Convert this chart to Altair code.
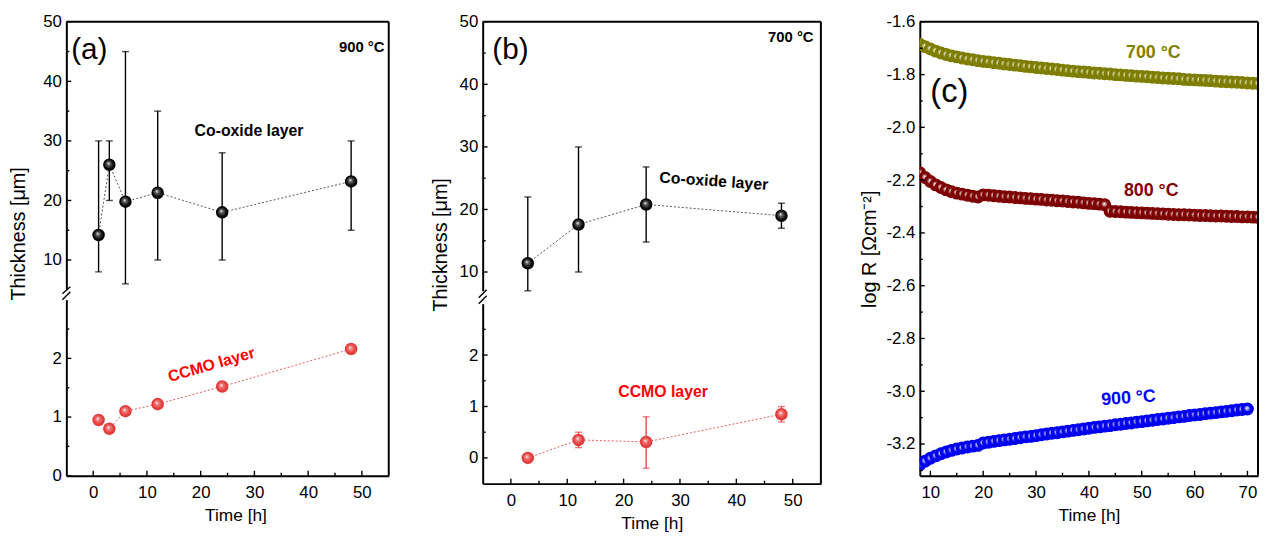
import altair as alt
import pandas as pd

FONT = "Liberation Sans"

# ---------------- panel (a) : 900 C ----------------
A_TIME = [1, 3, 6, 12, 24, 48]
A_COOX = [14.2, 26.0, 19.8, 21.3, 18.0, 23.2]
A_COOX_LO = [8, 20, 6, 10, 10, 15]
A_COOX_HI = [30, 30, 45, 35, 28, 30]
A_CCMO = [0.95, 0.80, 1.10, 1.22, 1.52, 2.16]

# ---------------- panel (b) : 700 C ----------------
B_TIME = [3, 12, 24, 48]
B_COOX = [11.4, 17.6, 20.8, 19.0]
B_COOX_LO = [7, 10, 14.8, 17]
B_COOX_HI = [22, 30, 26.8, 21]
B_CCMO = [0.0, 0.35, 0.31, 0.85]
B_CCMO_ERR_TIME = [12, 24, 48]
B_CCMO_LO = [0.2, -0.2, 0.7]
B_CCMO_HI = [0.5, 0.8, 1.0]

# ---------------- panel (c) : log R vs time ----------------
C_TIME_LONG = list(range(8, 73))
C_TIME_900 = list(range(8, 71))
C_700 = [-1.685, -1.694, -1.703, -1.711, -1.718, -1.724, -1.729, -1.733, -1.737, -1.741,
         -1.744, -1.747, -1.750, -1.752, -1.755, -1.757, -1.760, -1.762, -1.764, -1.766,
         -1.769, -1.771, -1.773, -1.775, -1.777, -1.779, -1.781, -1.783, -1.785, -1.787,
         -1.789, -1.790, -1.792, -1.794, -1.795, -1.797, -1.798, -1.800, -1.801, -1.803,
         -1.804, -1.806, -1.807, -1.808, -1.810, -1.811, -1.813, -1.814, -1.815, -1.816,
         -1.818, -1.819, -1.820, -1.821, -1.822, -1.823, -1.825, -1.826, -1.827, -1.828,
         -1.829, -1.830, -1.832, -1.833, -1.834]
C_800 = [-2.172, -2.190, -2.205, -2.218, -2.228, -2.237, -2.244, -2.249, -2.253, -2.257,
         -2.261, -2.264, -2.256, -2.257, -2.259, -2.261, -2.263, -2.264, -2.266, -2.267,
         -2.269, -2.270, -2.272, -2.273, -2.275, -2.276, -2.278, -2.279, -2.281, -2.283,
         -2.284, -2.286, -2.288, -2.289, -2.291, -2.293, -2.318, -2.319, -2.320, -2.321,
         -2.322, -2.323, -2.324, -2.325, -2.326, -2.327, -2.328, -2.329, -2.330, -2.331,
         -2.331, -2.332, -2.333, -2.334, -2.334, -2.335, -2.336, -2.336, -2.337, -2.338,
         -2.338, -2.339, -2.339, -2.340, -2.341]
C_900 = [-3.278, -3.265, -3.254, -3.245, -3.237, -3.230, -3.224, -3.219, -3.215, -3.211,
         -3.208, -3.205, -3.196, -3.193, -3.190, -3.187, -3.184, -3.182, -3.179, -3.176,
         -3.173, -3.171, -3.168, -3.165, -3.162, -3.159, -3.157, -3.154, -3.151, -3.148,
         -3.146, -3.143, -3.140, -3.137, -3.135, -3.132, -3.130, -3.127, -3.125, -3.122,
         -3.120, -3.117, -3.115, -3.112, -3.110, -3.107, -3.105, -3.102, -3.100, -3.097,
         -3.095, -3.092, -3.090, -3.088, -3.085, -3.083, -3.081, -3.078, -3.076, -3.074,
         -3.071, -3.069, -3.067]

# ---------------- tick values ----------------
XT_AB = [0, 10, 20, 30, 40, 50]
XT_AB_MINOR = [5, 15, 25, 35, 45]
YT_UP = [10, 20, 30, 40, 50]
YT_UP_MINOR = [15, 25, 35, 45]
YT_LO = [0, 1, 2]
YT_LO_MINOR = [0.5, 1.5, 2.5]
XT_C = [10, 20, 30, 40, 50, 60, 70]
XT_C_MINOR = [15, 25, 35, 45, 55, 65]
YT_C = [-1.6, -1.8, -2.0, -2.2, -2.4, -2.6, -2.8, -3.0, -3.2]
YT_C_MINOR = [-1.7, -1.9, -2.1, -2.3, -2.5, -2.7, -2.9, -3.1, -3.3]

DUMMY = pd.DataFrame({"d": [0]})
LAB = dict(labelFont=FONT, labelFontSize=17, labelColor="black", labelOverlap=False)
TIT = dict(titleFont=FONT, titleFontWeight="normal", titleColor="black")


def sphere(hi, mid, edge):
    return {"gradient": "radial", "x1": 0.42, "y1": 0.38, "r1": 0, "x2": 0.5, "y2": 0.5, "r2": 0.5,
            "stops": [{"offset": 0, "color": hi}, {"offset": 0.3, "color": mid},
                      {"offset": 0.75, "color": edge}, {"offset": 1, "color": edge}]}


BLACK_SPH = sphere("#f4f4f4", "#5a5a5a", "#050505")
RED_SPH = sphere("#ffffff", "#f27a7a", "#e23c3c")


def x_enc(values, dom, rng, title_x=None):
    ax = dict(values=values, grid=False, ticks=False, domain=True, domainColor="black", domainWidth=2,
              labelPadding=9, title="Time [h]", titleFontSize=17.5, titlePadding=6, orient="bottom",
              **LAB, **TIT)
    if title_x is not None:
        ax["titleX"] = title_x
    return alt.X("x:Q", scale=alt.Scale(domain=dom, range=rng, nice=False, zero=False), axis=alt.Axis(**ax))


def y_enc(values, dom, rng, title=None, title_x=None, title_y=None, fmt=None):
    ax = dict(values=values, grid=False, ticks=False, domain=True, domainColor="black", domainWidth=2,
              labelPadding=5, orient="left", titleFontSize=20, **LAB, **TIT)
    if fmt is not None:
        ax["labelExpr"] = "replace(format(datum.value, '" + fmt + "'), '\u2212', '-')"
    if title is None:
        ax["title"] = None
    else:
        ax["title"] = title
        if title_x is not None:
            ax["titleX"] = title_x
            ax["titleY"] = title_y
        else:
            ax["titlePadding"] = 6
    return alt.Y("y:Q", scale=alt.Scale(domain=dom, range=rng, nice=False, zero=False), axis=alt.Axis(**ax))


def text(xe, ye, x, y, label, size, color="black", bold=True, align="center", angle=0):
    df = pd.DataFrame({"x": [x], "y": [y], "label": [label]})
    mk = dict(font=FONT, fontSize=size, fontWeight="bold" if bold else "normal", color=color,
              align=align, baseline="middle")
    if angle:
        mk["angle"] = angle
    return alt.Chart(df).mark_text(**mk).encode(x=xe, y=ye, text="label:N")


def y_ticks(ye, major, minor):
    m1 = alt.Chart(pd.DataFrame({"y": major})).mark_rule(color="black", strokeWidth=1.4).encode(
        y=ye, x=alt.value(0), x2=alt.value(5))
    m2 = alt.Chart(pd.DataFrame({"y": minor})).mark_rule(color="black", strokeWidth=1.4).encode(
        y=ye, x=alt.value(0), x2=alt.value(3))
    return [m1, m2]


def x_ticks(xe, major, minor, h):
    m1 = alt.Chart(pd.DataFrame({"x": major})).mark_rule(color="black", strokeWidth=1.4).encode(
        x=xe, y=alt.value(h), y2=alt.value(h - 5))
    m2 = alt.Chart(pd.DataFrame({"x": minor})).mark_rule(color="black", strokeWidth=1.4).encode(
        x=xe, y=alt.value(h), y2=alt.value(h - 3))
    return [m1, m2]


def errorbars(xe, ye, xs, lo, hi, color):
    bars = alt.Chart(pd.DataFrame({"x": xs, "y": lo, "y2": hi})).mark_rule(
        color=color, strokeWidth=1.4).encode(x=xe, y=ye, y2=alt.Y2("y2:Q"))
    caps = alt.Chart(pd.DataFrame({"x": list(xs) + list(xs), "y": list(lo) + list(hi)})).mark_tick(
        orient="horizontal", size=7, thickness=1.4, color=color).encode(x=xe, y=ye)
    return [bars, caps]


def series(xe, ye, xs, ys, line_color, sphere_fill, size=160):
    line = alt.Chart(pd.DataFrame({"x": xs, "y": ys})).mark_line(
        color=line_color, strokeWidth=1, strokeDash=[2, 2]).encode(x=xe, y=ye)
    pts = alt.Chart(pd.DataFrame({"x": xs, "y": ys})).mark_point(
        shape="circle", filled=True, fill=sphere_fill, size=size, opacity=1, strokeWidth=0).encode(x=xe, y=ye)
    return line, pts


def frame_rules(w, h_top, h_bottom):
    top = alt.Chart(DUMMY).mark_rule(color="black", strokeWidth=2).encode(
        x=alt.value(0), x2=alt.value(w), y=alt.value(0))
    right = alt.Chart(DUMMY).mark_rule(color="black", strokeWidth=2).encode(
        x=alt.value(w), y=alt.value(h_top), y2=alt.value(h_bottom))
    return top, right


def break_marks(y1a, y1b, y2a, y2b):
    s1 = alt.Chart(DUMMY).mark_rule(color="black", strokeWidth=1.4).encode(
        x=alt.value(-4), x2=alt.value(4), y=alt.value(y1a), y2=alt.value(y1b))
    s2 = alt.Chart(DUMMY).mark_rule(color="black", strokeWidth=1.4).encode(
        x=alt.value(-4), x2=alt.value(4), y=alt.value(y2a), y2=alt.value(y2b))
    return s1, s2


def spacer(w, h):
    return alt.Chart(DUMMY).mark_point(opacity=0).encode(
        x=alt.value(0), y=alt.value(0)).properties(width=w, height=h)


# ================= panel (a) =================
WA, HA = 326, 459
xa = x_enc(XT_AB, [-5, 55], [0, WA], title_x=171)
ya_up = y_enc(YT_UP, [5, 50], [271, 0], title="Thickness [\u03bcm]", title_x=-38, title_y=214)
ya_lo = y_enc(YT_LO, [0, 3], [459, 281])

a_line_up, a_pts_up = series(xa, ya_up, A_TIME, A_COOX, "#555555", BLACK_SPH)
a_top, a_right = frame_rules(WA, 0, HA)
upper_a = alt.layer(
    *errorbars(xa, ya_up, A_TIME, A_COOX_LO, A_COOX_HI, "black"),
    a_line_up, a_pts_up,
    *y_ticks(ya_up, YT_UP, YT_UP_MINOR),
    text(xa, ya_up, -4.1, 45.3, "(a)", 30, bold=False, align="left"),
    text(xa, ya_up, 54.2, 45.8, "900 \u00b0C", 15, align="right"),
    text(xa, ya_up, 29, 31.6, "Co-oxide layer", 16),
    a_top, a_right,
)
a_line_lo, a_pts_lo = series(xa, ya_lo, A_TIME, A_CCMO, "#f05a5a", RED_SPH)
a_s1, a_s2 = break_marks(275, 268, 281, 273)
lower_a = alt.layer(
    a_line_lo, a_pts_lo,
    *y_ticks(ya_lo, YT_LO, YT_LO_MINOR),
    *x_ticks(xa, XT_AB, XT_AB_MINOR, HA),
    text(xa, ya_lo, 22, 1.89, "CCMO layer", 16, color="#ff0000", angle=344),
    a_s1, a_s2,
)
panel_a = alt.layer(upper_a, lower_a).resolve_scale(y="independent").properties(width=WA, height=HA)

# ================= panel (b) =================
WB, HB = 342, 467
xb = x_enc(XT_AB, [-5, 55], [0, WB])
yb_up = y_enc(YT_UP, [7, 50], [272, 0], title="Thickness [\u03bcm]", title_x=-33, title_y=225)
yb_lo = y_enc(YT_LO, [-0.5, 3], [467, 285])

b_line_up, b_pts_up = series(xb, yb_up, B_TIME, B_COOX, "#555555", BLACK_SPH)
b_top, b_right = frame_rules(WB, 0, HB)
upper_b = alt.layer(
    *errorbars(xb, yb_up, B_TIME, B_COOX_LO, B_COOX_HI, "black"),
    b_line_up, b_pts_up,
    *y_ticks(yb_up, YT_UP, YT_UP_MINOR),
    text(xb, yb_up, -3.3, 45.4, "(b)", 30, bold=False, align="left"),
    text(xb, yb_up, 53.7, 47.6, "700 \u00b0C", 15, align="right"),
    text(xb, yb_up, 36, 24.5, "Co-oxide layer", 16, angle=4),
    b_top, b_right,
)
b_line_lo, b_pts_lo = series(xb, yb_lo, B_TIME, B_CCMO, "#f05a5a", RED_SPH)
b_s1, b_s2 = break_marks(279, 271, 285, 277)
lower_b = alt.layer(
    *errorbars(xb, yb_lo, B_CCMO_ERR_TIME, B_CCMO_LO, B_CCMO_HI, "#e84848"),
    b_line_lo, b_pts_lo,
    *y_ticks(yb_lo, YT_LO, YT_LO_MINOR),
    *x_ticks(xb, XT_AB, XT_AB_MINOR, HB),
    text(xb, yb_lo, 27, 1.29, "CCMO layer", 16, color="#ff0000"),
    b_s1, b_s2,
)
panel_b = alt.layer(upper_b, lower_b).resolve_scale(y="independent").properties(width=WB, height=HB)

# ================= panel (c) =================
WC, HC = 342, 459
xc = x_enc(XT_C, [8, 72], [0, WC])
yc = y_enc(YT_C, [-3.32, -1.6], [HC, 0], title="log R [\u03a9cm\u207b\u00b2]", fmt=".1f")


def band(xs, ys, color, light):
    grad = {"gradient": "radial", "x1": 0.45, "y1": 0.42, "r1": 0, "x2": 0.5, "y2": 0.5, "r2": 0.5,
            "stops": [{"offset": 0, "color": "#ffffff"}, {"offset": 0.3, "color": light},
                      {"offset": 0.55, "color": color}, {"offset": 1, "color": color}]}
    return alt.Chart(pd.DataFrame({"x": xs, "y": ys})).mark_point(
        shape="circle", filled=True, fill=grad, stroke=color, strokeWidth=1.2, size=140,
        opacity=1, clip=True).encode(x=xc, y=yc)


c_top, c_right = frame_rules(WC, 0, HC)
panel_c = alt.layer(
    band(C_TIME_LONG, C_700, "#7d7d00", "#c4c48a"),
    band(C_TIME_LONG, C_800, "#7d0000", "#c48a8a"),
    band(C_TIME_900, C_900, "#0000f0", "#8a8aff"),
    *y_ticks(yc, YT_C, YT_C_MINOR),
    *x_ticks(xc, XT_C, XT_C_MINOR, HC),
    text(xc, yc, 10, -1.866, "(c)", 33, bold=False, align="left"),
    text(xc, yc, 52.2, -1.72, "700 \u00b0C", 18, color="#808000"),
    text(xc, yc, 51.8, -2.24, "800 \u00b0C", 18, color="#800000"),
    text(xc, yc, 47.5, -3.027, "900 \u00b0C", 18, color="#0000ff", angle=356),
    c_top, c_right,
).properties(width=WC, height=HC)

chart = alt.hconcat(panel_a, spacer(95, 100), panel_b, spacer(100, 100), panel_c,
                    spacing=0, bounds="flush").properties(
    padding={"left": 1, "top": 2, "right": 0, "bottom": 0}
).configure(font=FONT).configure_view(stroke=None, strokeWidth=0)

chart.save("out.html", embed_options={"renderer": "svg", "actions": False})
